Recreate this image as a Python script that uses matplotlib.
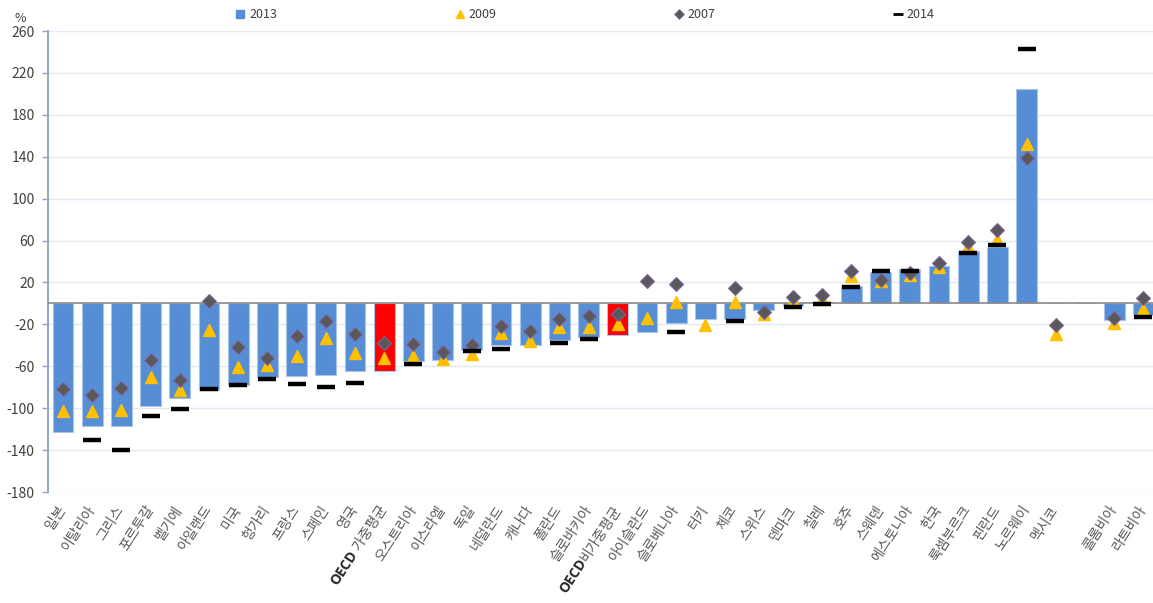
import numpy as np
import matplotlib
matplotlib.use("Agg")
import matplotlib.pyplot as plt
from matplotlib.lines import Line2D
from matplotlib.transforms import ScaledTranslation

plt.rcParams['font.family'] = ['Noto Sans CJK KR', 'DejaVu Sans']

nan = np.nan

countries = ['일본', '이탈리아', '그리스', '포르투갈', '벨기에', '아일랜드', '미국', '헝가리',
             '프랑스', '스페인', '영국', 'OECD 가중평균', '오스트리아', '이스라엘', '독일',
             '네덜란드', '캐나다', '폴란드', '슬로바키아', 'OECD비가중평균', '아이슬란드',
             '슬로베니아', '터키', '체코', '스위스', '덴마크', '칠레', '호주', '스웨덴',
             '에스토니아', '한국', '룩셈부르크', '핀란드', '노르웨이', '멕시코', '',
             '콜롬비아', '라트비아']

v2013 = [-122.5, -117.4, -116.8, -98, -90, -83, -78, -70, -69, -68.4, -64.6, -64.6,
         -55, -54.4, -44.2, -40, -39.4, -35.3, -32, -29.9, -27, -18.8, -15, -14.6,
         -6.6, -2, 1.3, 16.5, 29.9, 32.4, 36, 50.3, 53.4, 204.2, nan, nan, -15.9, -11.5]

v2009 = [-103, -102.4, -102, -70, -83, -25, -61, -59, -50, -33, -47, -52,
         -50, -53.4, -48.7, -28.6, -35.6, -22.3, -22.3, -20, -13.7, 1.3, -21, 1.6,
         -10.5, 3, 4, 26, 21, 26.7, 35, 54.7, 61, 152.4, -29.6, nan, -19, -5.7]

v2007 = [-82, -87.8, -81, -54.4, -73, 2, -42, -52.5, -31, -16.5, -29, -37.5,
         -38.5, -46.4, -39.8, -22, -26.4, -14.6, -12, -9.9, 21.3, 18.8, nan, 15,
         -8, 5.7, 7.6, 30.5, 22, 29.3, 38.2, 58.2, 70, 138.4, -20.4, nan, -14, 5]

v2014 = [nan, -130, -140.3, -107, -101, -82, -78, -72, -76.6, -79.5, -75.7, nan,
         -58, nan, -45.5, -43.3, nan, -37.5, -34.4, nan, nan, -27.7, nan, -16.5,
         nan, -3.2, -0.5, 15.3, 30.8, 31.2, nan, 48, 55.6, 243, nan, nan, nan, -12.7]

yticks = [260, 220, 180, 140, 100, 60, 20, -20, -60, -100, -140, -180]

BLUE = '#558ED5'
RED = '#FF0000'
GOLD = '#FFC000'
DIAMOND = '#595959'
TEXT = '#404040'

W, H = 1153, 603
fig = plt.figure(figsize=(W / 100, H / 100), dpi=100)
ax = fig.add_axes([48.4 / W, (H - 492) / H, 1109.6 / W, 461 / H])

x = np.arange(len(countries))
bar_colors = [RED if c.startswith('OECD') else BLUE for c in countries]
ax.bar(x, np.nan_to_num(np.array(v2013, float)), width=0.71, color=bar_colors,
       edgecolor='#a9c4ea', linewidth=0.8, zorder=2)

ax.axhline(0, color='#8a8a8a', lw=1.2, zorder=3)

ax.plot(x, v2009, ls='none', marker='^', ms=9, color=GOLD, mec=GOLD, zorder=4)
ax.plot(x, v2007, ls='none', marker='D', ms=7.5, color=DIAMOND, mec='#8064A2',
        mew=0.8, zorder=5)
ax.plot(x, v2014, ls='none', marker='_', ms=12.5, color='black', mew=3.2, zorder=6)

ax.set_xlim(-0.5, len(countries) - 0.5)
ax.set_ylim(-180, 260)
ax.set_yticks(yticks)
ax.set_yticklabels([str(t) for t in yticks], fontsize=10, color=TEXT)
ax.yaxis.grid(True, color='#e2e9f3', lw=1.0, zorder=0)
ax.set_axisbelow(True)
ax.tick_params(axis='y', length=4, width=1, color='#8fa6c4', pad=6)
ax.tick_params(axis='x', length=0, labelbottom=False)
for side in ('top', 'right', 'bottom'):
    ax.spines[side].set_visible(False)
ax.spines['left'].set_color('#8fa6c4')
ax.spines['left'].set_linewidth(1.4)

# rotated category labels, "OECD" set in bold ahead of the Korean part
ROT = 57
label_off = ScaledTranslation(0.0, -0.15, fig.dpi_scale_trans)
renderer = fig.canvas.get_renderer()
cos_r, sin_r = np.cos(np.radians(ROT)), np.sin(np.radians(ROT))
for i, name in enumerate(countries):
    if not name:
        continue
    base = ax.get_xaxis_transform() + label_off
    if name.startswith('OECD'):
        rest = name[4:]
        ax.text(i, 0, rest, transform=base, rotation=ROT, rotation_mode='anchor',
                ha='right', va='center', fontsize=10, color='#595959')
        probe = fig.text(0, 0, rest, fontsize=10)
        w = probe.get_window_extent(renderer).width
        probe.remove()
        shift = ScaledTranslation(-w * cos_r / 100, -w * sin_r / 100, fig.dpi_scale_trans)
        ax.text(i, 0, 'OECD', transform=base + shift, rotation=ROT,
                rotation_mode='anchor', ha='right', va='center', fontsize=10,
                fontweight='bold', color='#262626', family=['Open Sans', 'DejaVu Sans'])
    else:
        ax.text(i, 0, name, transform=base, rotation=ROT, rotation_mode='anchor',
                ha='right', va='center', fontsize=10, color='#595959')

fig.text(20 / W, 1 - 18 / H, '%', fontsize=9, color=TEXT, ha='center', va='center')

handles = [
    Line2D([], [], ls='none', marker='s', ms=6, color=BLUE),
    Line2D([], [], ls='none', marker='^', ms=6, color=GOLD),
    Line2D([], [], ls='none', marker='D', ms=5, color=DIAMOND, mec='#8064A2', mew=0.5),
    Line2D([], [], ls='none', marker='_', ms=7, color='black', mew=2),
]
fig.legend(handles, ['2013', '2009', '2007', '2014'], loc='center',
           bbox_to_anchor=(585 / W, 1 - 15 / H), ncol=4, frameon=False,
           fontsize=9, handlelength=0.8, handletextpad=0.3, columnspacing=14.2,
           labelcolor=TEXT)

fig.savefig('out.png', dpi=100)
